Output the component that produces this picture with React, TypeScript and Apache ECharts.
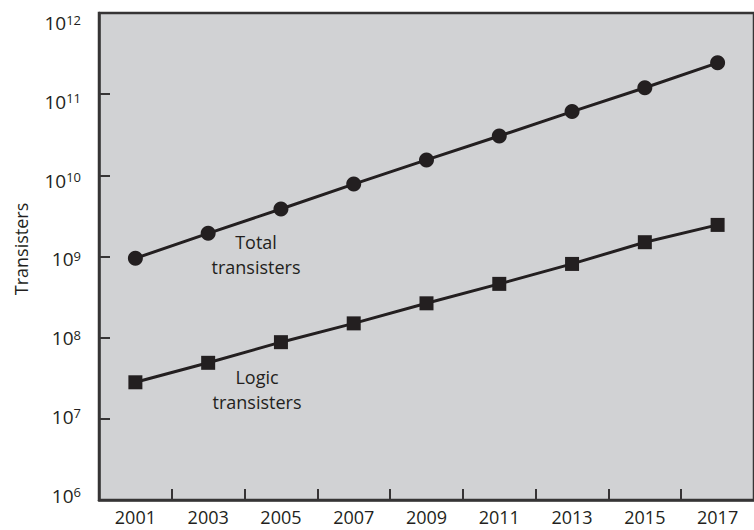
import React, { useEffect, useRef } from "react";
import * as echarts from "echarts";

// Years shown on the category axis (one band per two-year step)
const years = ["2001", "2003", "2005", "2007", "2009", "2011", "2013", "2015", "2017"];

// Transistor counts per chip
const totalTransistors = [0.95e9, 1.93e9, 3.85e9, 7.8e9, 1.55e10, 3.05e10, 6.1e10, 1.2e11, 2.43e11];
const logicTransistors = [2.82e7, 4.9e7, 8.8e7, 1.5e8, 2.65e8, 4.6e8, 8.1e8, 1.5e9, 2.45e9];

// Log-axis range (powers of ten)
const yMin = 1e6;
const yMax = 1e12;

const axisTitle = "Transisters";
const totalLabel = "Total\ntransisters";
const logicLabel = "Logic\ntransisters";

const FONT = "'Open Sans', 'Noto Sans', sans-serif";
const INK = "#231f20";
const AXIS = "#363435";
const PANEL = "#d1d2d4";

export default function App() {
  const ref = useRef<HTMLDivElement | null>(null);

  useEffect(() => {
    if (!ref.current) return;
    const chart = echarts.init(ref.current, null, { renderer: "svg" });

    const powerLabel = (v: number) => {
      const exp = Math.round(Math.log10(v));
      return `{b|10}{s|${exp}}`;
    };

    chart.setOption({
      animation: false,
      backgroundColor: "#ffffff",
      grid: [
        {
          left: 99,
          top: 13,
          width: 667,
          height: 487,
          show: true,
          backgroundColor: PANEL,
          borderColor: AXIS,
          borderWidth: 2.5,
        },
        // companion grid carrying the power-of-ten labels
        {
          left: 99,
          top: 23,
          width: 667,
          height: 472.5,
          show: false,
        },
      ],
      xAxis: [
        {
          type: "category",
          gridIndex: 0,
          data: years,
          boundaryGap: true,
          axisLine: { show: true, lineStyle: { color: AXIS, width: 2.5 } },
          axisTick: {
            show: true,
            inside: true,
            length: 11,
            interval: 0,
            lineStyle: { color: AXIS, width: 2 },
          },
          axisLabel: {
            interval: 0,
            margin: 8,
            color: INK,
            fontFamily: FONT,
            fontSize: 18,
            lineHeight: 18,
          },
          splitLine: { show: false },
        },
        {
          type: "value",
          gridIndex: 1,
          show: false,
        },
      ],
      yAxis: [
        {
          type: "log",
          gridIndex: 0,
          logBase: 10,
          min: yMin,
          max: yMax,
          axisLine: { show: true, lineStyle: { color: AXIS, width: 2.5 } },
          axisTick: {
            show: true,
            inside: true,
            length: 11,
            lineStyle: { color: AXIS, width: 2 },
          },
          axisLabel: { show: false },
          splitLine: { show: false },
          minorTick: { show: false },
        },
        {
          type: "log",
          gridIndex: 1,
          logBase: 10,
          min: yMin,
          max: yMax,
          axisLine: { show: false },
          axisTick: { show: false },
          splitLine: { show: false },
          axisLabel: {
            show: true,
            margin: 18,
            formatter: powerLabel,
            rich: {
              b: { fontFamily: FONT, fontSize: 19, color: INK, lineHeight: 20 },
              s: {
                fontFamily: FONT,
                fontSize: 13,
                color: INK,
                lineHeight: 14,
                verticalAlign: "top",
                padding: [0, 0, 6, 0],
              },
            },
          },
        },
      ],
      series: [
        {
          name: "Total transisters",
          type: "line",
          xAxisIndex: 0,
          yAxisIndex: 0,
          data: totalTransistors,
          symbol: "circle",
          symbolSize: 15,
          itemStyle: { color: INK },
          lineStyle: { color: INK, width: 3 },
          z: 3,
        },
        {
          name: "Logic transisters",
          type: "line",
          xAxisIndex: 0,
          yAxisIndex: 0,
          data: logicTransistors,
          symbol: "rect",
          symbolSize: 14,
          itemStyle: { color: INK },
          lineStyle: { color: INK, width: 3 },
          z: 3,
        },
      ],
      graphic: [
        {
          type: "text",
          x: 21,
          y: 249,
          rotation: Math.PI / 2,
          style: {
            text: axisTitle,
            fill: INK,
            font: `18px ${FONT}`,
            align: "center",
            verticalAlign: "middle",
          },
        },
        {
          type: "text",
          x: 256,
          y: 229.5,
          style: {
            text: totalLabel,
            fill: INK,
            font: `18px ${FONT}`,
            lineHeight: 25,
            align: "center",
            verticalAlign: "top",
          },
        },
        {
          type: "text",
          x: 257,
          y: 364,
          style: {
            text: logicLabel,
            fill: INK,
            font: `18px ${FONT}`,
            lineHeight: 25,
            align: "center",
            verticalAlign: "top",
          },
        },
      ],
    });

    return () => chart.dispose();
  }, []);

  return (
    <div
      ref={ref}
      style={{ position: "absolute", left: 0, top: 0, width: 754, height: 530 }}
    />
  );
}
